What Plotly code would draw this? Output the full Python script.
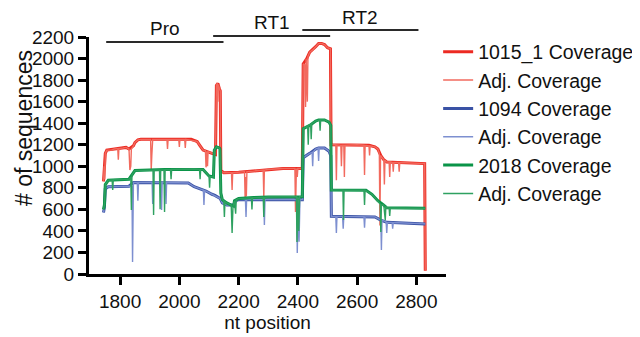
import plotly.graph_objects as go

# ---------------- data ----------------
# 1015_1 (red)
red_cov_x = [1744, 1750, 1755, 1780, 1820, 1830, 1845, 1850, 1860, 1870, 2040, 2050, 2060, 2070, 2080, 2110, 2122,
             2125, 2130, 2135, 2138, 2140, 2150, 2200, 2250, 2300, 2350, 2415, 2418, 2430, 2440, 2460, 2470, 2480,
             2490, 2500, 2510, 2512, 2600, 2640, 2660, 2670, 2680, 2690, 2700, 2800, 2828, 2830]
red_cov_y = [860, 1120, 1150, 1160, 1175, 1160, 1190, 1220, 1245, 1250, 1250, 1240, 1230, 1190, 1150, 1120, 1110,
             1750, 1770, 1720, 1700, 960, 940, 945, 955, 970, 980, 980, 1950, 2000, 2060, 2110, 2140, 2140,
             2130, 2100, 2090, 1200, 1200, 1195, 1180, 1160, 1100, 1060, 1040, 1030, 1025, 30]
red_adj_x = [1744, 1746, 1748, 1750, 1755, 1770, 1780, 1792, 1794, 1796, 1810, 1820, 1830, 1833, 1836, 1838, 1845,
             1850, 1860, 1870, 1903, 1905, 1907, 1910, 1958, 1960, 1962, 1998, 2000, 2002, 2018, 2020, 2022, 2050,
             2060, 2070, 2080, 2088, 2090, 2093, 2095, 2097, 2110, 2122, 2125, 2128, 2130, 2132, 2135, 2138, 2140,
             2150, 2176, 2178, 2180, 2200, 2220, 2222, 2224, 2226, 2228, 2250, 2283, 2285, 2287, 2300, 2350, 2390,
             2392, 2395, 2398, 2400, 2415, 2418, 2424, 2426, 2428, 2432, 2434, 2440, 2450, 2460, 2470, 2480, 2490,
             2500, 2510, 2512, 2528, 2530, 2532, 2545, 2547, 2549, 2555, 2557, 2559, 2600, 2623, 2625, 2627, 2640,
             2642, 2644, 2660, 2670, 2675, 2677, 2679, 2690, 2692, 2694, 2700, 2708, 2710, 2712, 2720, 2722, 2724,
             2740, 2742, 2744, 2800, 2828, 2830]
red_adj_y = [860, 1000, 880, 1120, 1150, 1150, 1160, 1165, 1060, 1165, 1170, 1175, 1160, 965, 1000, 1160, 1190,
             1220, 1245, 1250, 1250, 965, 1100, 1250, 1250, 1160, 1250, 1250, 1180, 1250, 1250, 1170, 1250, 1240,
             1230, 1190, 1150, 1145, 990, 1140, 1000, 1135, 1120, 1110, 1750, 1770, 1600, 1760, 1720, 1700, 960,
             940, 940, 780, 940, 945, 950, 706, 900, 720, 950, 955, 965, 715, 965, 970, 980, 980,
             575, 980, 900, 980, 980, 1950, 1940, 1550, 2000, 1600, 2020, 2060, 2080, 2110, 2140, 2140, 2130,
             2100, 2090, 1200, 1200, 870, 1200, 1195, 1000, 1195, 1195, 900, 1195, 1200, 1195, 920, 1195, 1190,
             1100, 1190, 1180, 1160, 1120, 450, 1100, 1060, 830, 1055, 1040, 1040, 900, 1040, 1035, 950, 1035,
             1035, 950, 1035, 1030, 1025, 30]

# 1094 (blue)
blue_cov_x = [1744, 1747, 1750, 1760, 1830, 1845, 2030, 2050, 2070, 2090, 2110, 2120, 2138, 2145, 2160, 2183, 2190,
              2200, 2415, 2418, 2440, 2460, 2470, 2490, 2505, 2511, 2513, 2660, 2680, 2700, 2830]
blue_cov_y = [570, 620, 790, 810, 815, 850, 845, 810, 790, 770, 740, 730, 700, 660, 640, 640, 680,
              690, 690, 1080, 1120, 1160, 1170, 1170, 1140, 1100, 535, 530, 500, 480, 465]
blue_adj_x = [1744, 1747, 1750, 1760, 1830, 1840, 1842, 1845, 1858, 1860, 1862, 1908, 1910, 1912, 1938, 1940, 1942,
              1953, 1955, 1957, 2030, 2050, 2070, 2081, 2083, 2085, 2090, 2110, 2120, 2138, 2145, 2160, 2183, 2190,
              2200, 2223, 2225, 2227, 2285, 2287, 2289, 2396, 2398, 2401, 2404, 2407, 2415, 2418, 2440, 2448, 2450,
              2452, 2460, 2468, 2470, 2472, 2490, 2505, 2511, 2513, 2528, 2530, 2532, 2551, 2553, 2555, 2623, 2625,
              2627, 2660, 2680, 2682, 2684, 2698, 2700, 2702, 2718, 2720, 2722, 2830]
blue_adj_y = [570, 620, 790, 810, 815, 815, 111, 850, 850, 680, 850, 850, 650, 850, 850, 594, 850,
              850, 650, 850, 845, 810, 790, 780, 640, 775, 770, 740, 730, 700, 660, 640, 640, 680,
              690, 690, 529, 690, 690, 455, 690, 690, 195, 690, 300, 690, 690, 1080, 1120, 1130, 1000,
              1135, 1160, 1170, 1050, 1170, 1170, 1140, 1100, 535, 535, 380, 535, 535, 420, 535, 532, 430,
              532, 530, 500, 223, 500, 482, 380, 480, 478, 420, 478, 465]

# 2018 (green)
green_cov_x = [1744, 1747, 1750, 1760, 1830, 1840, 1850, 1950, 2050, 2080, 2090, 2100, 2115, 2118, 2125, 2135, 2137,
               2140, 2145, 2160, 2175, 2183, 2186, 2200, 2250, 2300, 2415, 2418, 2440, 2460, 2470, 2490, 2505, 2511,
               2513, 2630, 2650, 2670, 2690, 2700, 2830]
green_cov_y = [600, 640, 830, 870, 880, 920, 960, 970, 975, 970, 940, 910, 900, 1150, 1180, 1170, 1160,
               750, 690, 660, 640, 630, 680, 700, 710, 715, 718, 1350, 1380, 1420, 1430, 1430, 1410, 1380,
               780, 778, 740, 680, 640, 615, 610]
green_adj_x = [1744, 1747, 1750, 1760, 1773, 1775, 1777, 1830, 1836, 1838, 1840, 1850, 1911, 1913, 1915, 1933, 1935,
               1937, 1948, 1950, 1952, 1970, 1972, 1974, 2050, 2068, 2070, 2072, 2080, 2090, 2100, 2102, 2104, 2115,
               2118, 2125, 2135, 2137, 2140, 2145, 2150, 2152, 2154, 2160, 2175, 2178, 2181, 2186, 2190, 2192, 2200,
               2243, 2245, 2247, 2283, 2285, 2287, 2300, 2395, 2397, 2400, 2403, 2406, 2415, 2418, 2433, 2435, 2437,
               2443, 2445, 2447, 2460, 2470, 2473, 2475, 2477, 2490, 2505, 2511, 2513, 2552, 2554, 2556, 2623, 2625,
               2627, 2650, 2670, 2678, 2680, 2682, 2690, 2695, 2697, 2700, 2708, 2710, 2712, 2830]
green_adj_y = [600, 640, 830, 870, 875, 780, 875, 880, 900, 594, 920, 960, 965, 548, 965, 965, 600,
               965, 968, 575, 968, 970, 880, 970, 975, 972, 880, 970, 970, 940, 910, 800, 905, 900,
               1150, 1180, 1170, 1160, 750, 690, 680, 529, 670, 660, 640, 380, 630, 680, 560, 690, 700,
               708, 600, 708, 712, 529, 712, 715, 718, 297, 718, 400, 718, 718, 1350, 1375, 1200, 1380,
               1390, 1250, 1395, 1420, 1430, 1430, 1330, 1430, 1430, 1410, 1380, 780, 780, 501, 780, 778, 640,
               778, 740, 680, 650, 390, 640, 640, 500, 630, 615, 612, 540, 612, 610]

# axis ticks and region labels
x_ticks = [1800, 2000, 2200, 2400, 2600, 2800]
y_ticks = [0, 200, 400, 600, 800, 1000, 1200, 1400, 1600, 1800, 2000, 2200]
regions = ["Pro", "RT1", "RT2"]
region_start = [1753, 2114, 2415]
region_end = [2149, 2509, 2807]

# ---------------- figure ----------------
RED, RED_L = "#ec2a22", "#f26a5e"
BLUE, BLUE_L = "#3a52a5", "#7d8fd0"
GREEN, GREEN_L = "#0a9448", "#2ea160"
FONT = "Liberation Sans, Arial, sans-serif"

fig = go.Figure()
series = [
    ("1015_1 Coverage", red_cov_x, red_cov_y, RED, 3.0),
    ("Adj. Coverage", red_adj_x, red_adj_y, RED_L, 1.4),
    ("1094 Coverage", blue_cov_x, blue_cov_y, BLUE, 3.0),
    ("Adj. Coverage", blue_adj_x, blue_adj_y, BLUE_L, 1.4),
    ("2018 Coverage", green_cov_x, green_cov_y, GREEN, 3.0),
    ("Adj. Coverage", green_adj_x, green_adj_y, GREEN_L, 1.4),
]
for i, (name, xs, ys, col, w) in enumerate(series):
    fig.add_trace(go.Scatter(x=xs, y=ys, mode="lines", name=name, legendgroup=f"g{i}",
                             line=dict(color=col, width=w)))

for lab, s, e, ly, ty in zip(regions, region_start, region_end, [0.979, 1.004, 1.030], [1.036, 1.061, 1.084]):
    fig.add_shape(type="line", xref="x", yref="paper", x0=s, x1=e, y0=ly, y1=ly,
                  line=dict(color="#2a2a2a", width=2))
    fig.add_annotation(text=lab, xref="x", yref="paper", x=(s + e) / 2, y=ty, showarrow=False,
                       xanchor="center", yanchor="middle",
                       font=dict(size=19, color="#111", family=FONT))

fig.add_annotation(text="# of sequences", xref="paper", yref="paper", x=-0.182, y=0.616, textangle=-90,
                   xanchor="center", yanchor="middle",
                   showarrow=False, font=dict(size=23, color="#111", family=FONT))

# the page body adds an 8px margin, so the figure is 8px smaller than the window
fig.update_layout(
    width=632, height=329,
    margin=dict(l=81, r=194, t=29, b=63, autoexpand=False),
    plot_bgcolor="white", paper_bgcolor="white",
    font=dict(family=FONT, size=19, color="#111"),
    showlegend=True,
    legend=dict(x=0.978, y=0.637, xanchor="left", yanchor="middle", tracegroupgap=0,
                font=dict(size=19.5, color="#111", family=FONT), bgcolor="rgba(0,0,0,0)"),
    xaxis=dict(range=[1695, 2900], tickvals=x_ticks, showline=True, linecolor="black", linewidth=3,
               ticks="outside", ticklen=8, tickwidth=3, tickcolor="black", showgrid=False, zeroline=False,
               title=dict(text="nt position", font=dict(size=19), standoff=4)),
    yaxis=dict(range=[0, 2200], tickvals=y_ticks, showline=True, linecolor="black", linewidth=3,
               ticks="outside", ticklen=8, tickwidth=3, tickcolor="black", showgrid=False, zeroline=False),
)

fig.write_html("out.html")
